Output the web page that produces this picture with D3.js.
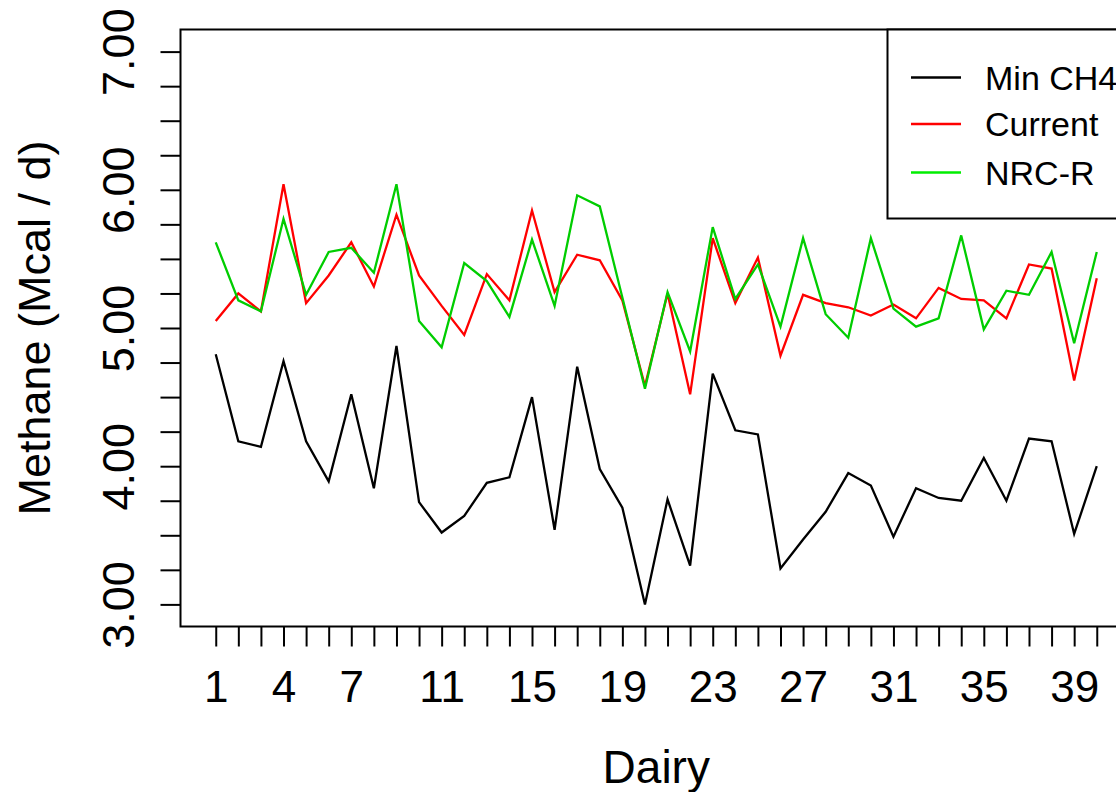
<!DOCTYPE html>
<html>
<head>
<meta charset="utf-8">
<script src="https://cdn.jsdelivr.net/npm/d3@7"></script>
<style>
  html, body { margin: 0; padding: 0; background: #fff; overflow: hidden; }
  svg { display: block; font-family: "Liberation Sans", Arial, sans-serif; }
</style>
</head>
<body>
<script>
const width = 1116;
const height = 792;

const dairies = d3.range(1, 41);

const minCH4 = [4.81, 4.18, 4.14, 4.76, 4.18, 3.89, 4.52, 3.84, 4.87, 3.74,
  3.52, 3.64, 3.88, 3.92, 4.50, 3.54, 4.72, 3.98, 3.70, 3.00,
  3.76, 3.28, 4.67, 4.26, 4.23, 3.26, 3.47, 3.67, 3.95, 3.86,
  3.49, 3.84, 3.77, 3.75, 4.06, 3.75, 4.20, 4.18, 3.51, 4.00];

const current = [5.05, 5.25, 5.12, 6.04, 5.18, 5.38, 5.62, 5.30, 5.82, 5.38,
  5.16, 4.95, 5.39, 5.20, 5.85, 5.26, 5.53, 5.49, 5.20, 4.58,
  5.25, 4.52, 5.65, 5.18, 5.51, 4.80, 5.24, 5.18, 5.15, 5.09,
  5.17, 5.07, 5.29, 5.21, 5.20, 5.07, 5.46, 5.43, 4.62, 5.36];

const nrcR = [5.62, 5.20, 5.12, 5.79, 5.24, 5.55, 5.58, 5.40, 6.04, 5.05,
  4.86, 5.47, 5.34, 5.08, 5.64, 5.16, 5.96, 5.88, 5.22, 4.56,
  5.26, 4.83, 5.73, 5.21, 5.46, 5.01, 5.65, 5.10, 4.93, 5.65,
  5.14, 5.01, 5.07, 5.67, 4.99, 5.27, 5.24, 5.55, 4.89, 5.55];

const xTickLabels = [1, 4, 7, 11, 15, 19, 23, 27, 31, 35, 39];
const yTicks = d3.range(3, 7.001, 0.25);
const yTickLabels = ["3.00", "4.00", "5.00", "6.00", "7.00"];

const seriesNames = ["Min CH4", "Current", "NRC-R"];
const seriesColors = ["#000000", "#ff0000", "#00cd00"];
const legendColors = ["#000000", "#ff0000", "#00ee00"];
const seriesValues = [minCH4, current, nrcR];

const plotLeft = 180.5, plotRight = 1132, plotTop = 29.5, plotBottom = 626.5;

// R style 4% padding on both axes
const x = d3.scaleLinear()
  .domain([1 - 0.04 * 39, 40 + 0.04 * 39])
  .range([plotLeft, plotRight]);

const y = d3.scaleLinear()
  .domain([3 - 0.04 * 4, 7 + 0.04 * 4])
  .range([plotBottom, plotTop]);

const svg = d3.select("body")
  .append("svg")
  .attr("width", width)
  .attr("height", height);

// lines
const lineFunc = d3.line()
  .x((d, i) => x(dairies[i]))
  .y(d => y(d));

seriesValues.forEach((vals, k) => {
  svg.append("path")
    .attr("d", lineFunc(vals))
    .attr("fill", "none")
    .attr("stroke", seriesColors[k])
    .attr("stroke-width", 2.3)
    .attr("stroke-linejoin", "miter");
});

// x axis
const xAxis = d3.axisBottom(x)
  .tickValues(dairies)
  .tickSize(20)
  .tickPadding(24)
  .tickFormat(d => xTickLabels.includes(d) ? d : "");

const gx = svg.append("g")
  .attr("transform", `translate(0,${plotBottom})`)
  .call(xAxis);
gx.select(".domain").remove();
gx.selectAll(".tick line").attr("stroke", "#000").attr("stroke-width", 2);
gx.selectAll(".tick text")
  .attr("fill", "#000")
  .style("font-size", "44px")
  .attr("dy", "0.71em");

// y axis (labels parallel to axis, like R)
const yAxis = d3.axisLeft(y)
  .tickValues(yTicks)
  .tickSize(20)
  .tickFormat(d => {
    const s = d.toFixed(2);
    return yTickLabels.includes(s) ? s : "";
  });

const gy = svg.append("g")
  .attr("transform", `translate(${plotLeft},0)`)
  .call(yAxis);
gy.select(".domain").remove();
gy.selectAll(".tick line").attr("stroke", "#000").attr("stroke-width", 2);
gy.selectAll(".tick text")
  .attr("fill", "#000")
  .style("font-size", "45px")
  .attr("x", null)
  .attr("dy", null)
  .attr("text-anchor", "middle")
  .attr("transform", "translate(-47,0) rotate(-90)");

// box
svg.append("rect")
  .attr("x", plotLeft)
  .attr("y", plotTop)
  .attr("width", plotRight - plotLeft)
  .attr("height", plotBottom - plotTop)
  .attr("fill", "none")
  .attr("stroke", "#000")
  .attr("stroke-width", 2);

// axis titles
svg.append("text")
  .text("Dairy")
  .attr("x", (x(1) + x(40)) / 2)
  .attr("y", 783)
  .attr("text-anchor", "middle")
  .style("font-size", "46px");

svg.append("text")
  .text("Methane (Mcal / d)")
  .attr("transform", `translate(50,${(plotTop + plotBottom) / 2}) rotate(-90)`)
  .attr("text-anchor", "middle")
  .style("font-size", "45px");

// legend, top right of plot region
const legendLeft = 887.5;
const legendBottom = 218.5;
svg.append("rect")
  .attr("x", legendLeft)
  .attr("y", plotTop)
  .attr("width", plotRight - legendLeft)
  .attr("height", legendBottom - plotTop)
  .attr("fill", "#fff")
  .attr("stroke", "#000")
  .attr("stroke-width", 2);

const legendRows = [77.5, 124, 172.5];
seriesNames.forEach((name, k) => {
  svg.append("line")
    .attr("x1", 911)
    .attr("x2", 961)
    .attr("y1", legendRows[k])
    .attr("y2", legendRows[k])
    .attr("stroke", legendColors[k])
    .attr("stroke-width", 2.3);
  svg.append("text")
    .text(name)
    .attr("x", 985)
    .attr("y", legendRows[k])
    .attr("dy", "0.36em")
    .style("font-size", "34px");
});
</script>
</body>
</html>
